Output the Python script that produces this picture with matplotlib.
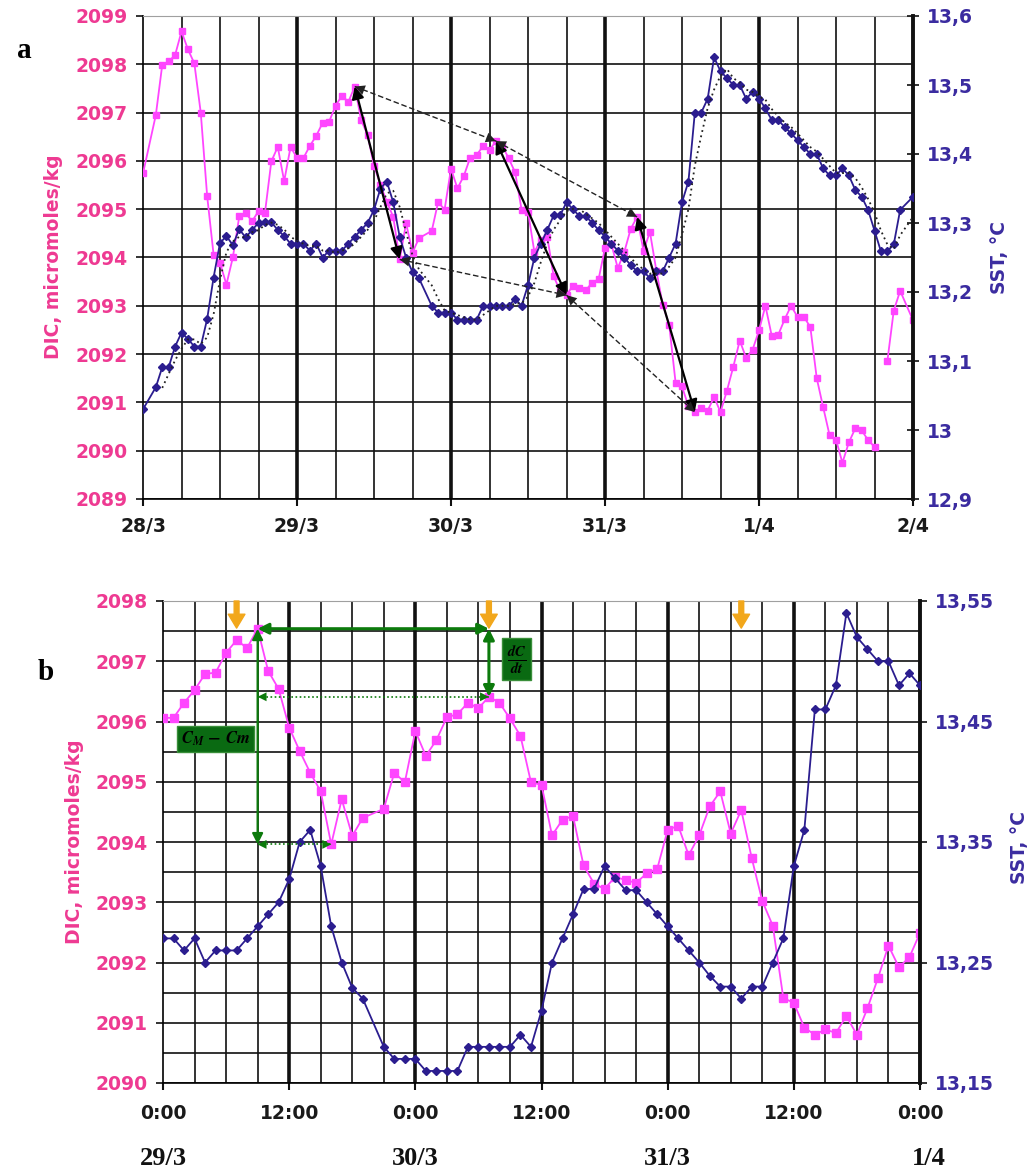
import numpy as np
import matplotlib.pyplot as plt
import matplotlib.transforms as mtransforms
from matplotlib.ticker import MultipleLocator, FixedLocator, FuncFormatter

plt.rcParams['font.family'] = 'DejaVu Sans'
plt.rcParams['font.weight'] = 'bold'
plt.rcParams['mathtext.fontset'] = 'stix'

# hourly samples, counted in hours from 28/3 00:00 (no rows logged at 1, 44 and 119)
missing_rows = [1, 44, 119]
hours = [h for h in range(121) if h not in missing_rows]

# DIC, micromoles/kg, one line per day (nan = empty cell)
dic = [
    2095.74, 2096.95, 2097.99, 2098.06, 2098.19, 2098.68, 2098.31, 2098.02, 2097.00, 2095.27, 2094.06, 2093.89,
    2093.44, 2094.00, 2094.85, 2094.92, 2094.75, 2094.96, 2094.92, 2095.99, 2096.29, 2095.58, 2096.29,
    2096.06, 2096.06, 2096.31, 2096.52, 2096.79, 2096.81, 2097.14, 2097.35, 2097.22, 2097.54, 2096.84, 2096.54,
    2095.90, 2095.51, 2095.15, 2094.84, 2093.96, 2094.71, 2094.10, 2094.40, 2094.55, 2095.15, 2094.99,
    2095.84, 2095.43, 2095.69, 2096.07, 2096.12, 2096.31, 2096.22, 2096.41, 2096.31, 2096.05, 2095.76, 2094.99,
    2094.95, 2094.11, 2094.37, 2094.43, 2093.61, 2093.31, 2093.22, 2093.42, 2093.37, 2093.32, 2093.48, 2093.55,
    2094.20, 2094.27, 2093.78, 2094.11, 2094.59, 2094.84, 2094.14, 2094.53, 2093.73, 2093.02, 2092.61, 2091.41,
    2091.33, 2090.92, 2090.80, 2090.89, 2090.83, 2091.11, 2090.80, 2091.24, 2091.74, 2092.28, 2091.92, 2092.09,
    2092.49, 2093.00, 2092.37, 2092.40, 2092.72, 2093.00, 2092.77, 2092.77, 2092.56, 2091.50, 2090.90, 2090.32,
    2090.23, 2089.75, 2090.17, 2090.46, 2090.42, 2090.22, 2090.08, np.nan, 2091.85, 2092.90, 2093.31, 2092.70,
]

# SST, deg C
sst = [
    13.030, 13.062, 13.091, 13.091, 13.121, 13.141, 13.132, 13.121, 13.121, 13.161, 13.221, 13.271,
    13.281, 13.268, 13.291, 13.279, 13.290, 13.300, 13.301, 13.301, 13.290, 13.281, 13.270,
    13.270, 13.270, 13.260, 13.270, 13.250, 13.260, 13.260, 13.260, 13.270, 13.280, 13.290, 13.300,
    13.319, 13.350, 13.360, 13.330, 13.280, 13.250, 13.229, 13.220, 13.180, 13.170, 13.170,
    13.170, 13.160, 13.160, 13.160, 13.160, 13.180, 13.180, 13.180, 13.180, 13.180, 13.190, 13.180,
    13.210, 13.250, 13.270, 13.290, 13.311, 13.311, 13.330, 13.320, 13.310, 13.310, 13.300, 13.290,
    13.280, 13.270, 13.260, 13.250, 13.239, 13.230, 13.230, 13.220, 13.230, 13.230, 13.250, 13.270,
    13.330, 13.360, 13.460, 13.460, 13.480, 13.540, 13.520, 13.510, 13.500, 13.500, 13.480, 13.490,
    13.480, 13.466, 13.449, 13.449, 13.439, 13.430, 13.420, 13.410, 13.400, 13.400, 13.379, 13.369,
    13.369, 13.379, 13.369, 13.348, 13.338, 13.319, 13.289, 13.259, 13.259, 13.269, 13.319, 13.338,
]

day_labels_a = ['28/3', '29/3', '30/3', '31/3', '1/4', '2/4']
time_labels_b = ['0:00', '12:00', '0:00', '12:00', '0:00', '12:00', '0:00']
day_labels_b = ['29/3', '30/3', '31/3', '1/4']

# DIC maxima / minima joined by arrows in panel a
peak_hours = [33, 55, 77]
trough_hours = [40, 66, 86]
# sunrise (7:00) markers in panel b
sunrise_hours = [31, 55, 79]

PINK = '#ff45ff'
PINK_TXT = '#ee3a92'
NAVY = '#2b1d8f'
NAVY_TXT = '#3b2ca0'
GREEN = '#0c7a0c'
BOX_GREEN = '#0a6a12'
ORANGE = '#f2a71b'
GRID = '#111111'
TICK_FS = 13.5


def dic_at(h):
    return dic[hours.index(h)]


def comma(v, pos=None):
    return f'{v:g}'.replace('.', ',')


def setup_axes(ax, twin, xlim, ylim, ylim2, major_x, minor_x, x_labels, sst_ticks, sst_dir):
    ax.set_xlim(*xlim)
    ax.set_ylim(*ylim)
    twin.set_ylim(*ylim2)
    ax.set_axisbelow(True)
    # vertical grid: heavy at every major step, light in between, none on the frame edges
    for h in np.arange(xlim[0] + minor_x, xlim[1], minor_x):
        heavy = (h - xlim[0]) % major_x == 0
        ax.axvline(h, color=GRID, lw=2.6 if heavy else 1.2, zorder=0.5)
    ax.xaxis.set_major_locator(FixedLocator(np.arange(xlim[0], xlim[1] + 1, major_x)))
    ax.set_xticklabels(x_labels)
    ax.yaxis.set_major_locator(MultipleLocator(1))
    ax.yaxis.set_major_formatter(FuncFormatter(lambda v, p: f'{v:.0f}'))
    ax.grid(which='both', axis='y', color=GRID, lw=1.2)
    ax.tick_params(axis='y', which='major', direction='out', length=5, width=1.2,
                   color=GRID, labelcolor=PINK_TXT, labelsize=TICK_FS, pad=6)
    ax.tick_params(axis='y', which='minor', length=0)
    ax.tick_params(axis='x', which='major', direction='out', length=5, width=1.5,
                   color=GRID, labelcolor='#1a1a1a', labelsize=TICK_FS, pad=8)
    twin.yaxis.set_major_locator(FixedLocator(sst_ticks))
    twin.yaxis.set_major_formatter(FuncFormatter(comma))
    twin.tick_params(axis='y', direction=sst_dir, length=8 if sst_dir == 'inout' else 5,
                     width=1.2, color=GRID, labelcolor=NAVY_TXT, labelsize=TICK_FS, pad=6)
    ax.spines['top'].set_color('#a0a0a0')
    ax.spines['right'].set_visible(False)
    for side in ('left', 'bottom'):
        ax.spines[side].set_linewidth(1.2)
    for side in ('left', 'top', 'bottom'):
        twin.spines[side].set_visible(False)
    twin.spines['right'].set_linewidth(2.8)
    twin.spines['right'].set_color(GRID)


def double_head(ax, p0, p1, trans, scale, color, dashed=False, lw=1.6):
    # dashed shafts are drawn as a plain line, the heads come from the arrow patch
    if dashed:
        ax.plot([p0[0], p1[0]], [p0[1], p1[1]], transform=trans, color=color,
                lw=1.0, ls=(0, (4, 2)), zorder=6)
    ax.annotate('', xy=p1, xytext=p0, xycoords=trans, textcoords=trans,
                arrowprops=dict(arrowstyle='<|-|>', color=color, lw=0 if dashed else lw,
                                mutation_scale=scale, shrinkA=0, shrinkB=0), zorder=7)


fig = plt.figure(figsize=(10.34, 11.7), dpi=100)
W, H = 1034, 1170
ax_a = fig.add_axes([143 / W, 1 - 499 / H, 770 / W, 483 / H])
ax_b = fig.add_axes([163 / W, 1 - 1083 / H, 757 / W, 482 / H])
sst_a = ax_a.twinx()
sst_b = ax_b.twinx()

hrs = np.array(hours, dtype=float)
dic_arr = np.array(dic)
sst_arr = np.array(sst)

# ---- panel a: whole record 28/3 - 2/4
setup_axes(ax_a, sst_a, (0, 120), (2089, 2099), (12.9, 13.6), 24, 6, day_labels_a,
           np.round(np.arange(12.9, 13.61, 0.1), 1), 'inout')

ax_a.plot(hrs, dic_arr, color=PINK, lw=1.3, marker='s', ms=5, mec=PINK, zorder=3)
sst_a.plot(hrs, sst_arr, color=NAVY, lw=1.3, marker='D', ms=4, zorder=3)
# 3-point moving average of SST
ma = np.convolve(sst_arr, np.ones(3) / 3, mode='valid')
sst_a.plot(hrs[2:], ma, color='#222222', lw=1.3, ls=(0, (1, 2)), zorder=4)

ta = ax_a.transData
for pk, tr in zip(peak_hours, trough_hours):
    double_head(sst_a, (pk, dic_at(pk)), (tr, dic_at(tr)), ta, 18, 'black', lw=1.6)
for hs in (peak_hours, trough_hours):
    for h0, h1 in zip(hs[:-1], hs[1:]):
        double_head(sst_a, (h0, dic_at(h0)), (h1, dic_at(h1)), ta, 18, '#222222', dashed=True)

# ---- panel b: 29/3 - 1/4 close-up
setup_axes(ax_b, sst_b, (24, 96), (2090, 2098), (13.15, 13.55), 12, 3, time_labels_b,
           np.round(np.arange(13.15, 13.56, 0.1), 2), 'out')
ax_b.yaxis.set_minor_locator(MultipleLocator(0.5))
ax_b.tick_params(axis='x', which='major', pad=10)

ax_b.plot(hrs, dic_arr, color=PINK, lw=1.3, marker='s', ms=6, mec=PINK, zorder=3)
sst_b.plot(hrs, sst_arr, color=NAVY, lw=1.3, marker='D', ms=4.5, zorder=3)

tb = ax_b.transData
for h in sunrise_hours:
    sst_b.annotate('', xy=(h, 2097.55), xytext=(h, 2098.0), xycoords=tb, textcoords=tb,
                   arrowprops=dict(facecolor=ORANGE, edgecolor=ORANGE, width=3.5,
                                   headwidth=12, headlength=10, shrink=0), zorder=8,
                   annotation_clip=False)

pk, tr, nxt = peak_hours[0], trough_hours[0], sunrise_hours[1]
c_max, c_min, c_next = dic_at(pk), dic_at(tr), dic_at(nxt)
double_head(sst_b, (pk, c_max), (nxt, c_max), tb, 16, GREEN, lw=2.2)
double_head(sst_b, (pk, c_max), (pk, c_min), tb, 16, GREEN, lw=1.6)
double_head(sst_b, (nxt, c_max), (nxt, c_next), tb, 16, GREEN, lw=2.2)
for y_lvl, h_end in ((c_next, nxt), (c_min, tr)):
    sst_b.plot([pk, h_end], [y_lvl, y_lvl], transform=tb, color=GREEN, lw=1.2,
               ls=(0, (1, 1.5)), zorder=6)
    sst_b.annotate('', xy=(h_end, y_lvl), xytext=(pk, y_lvl), xycoords=tb, textcoords=tb,
                   arrowprops=dict(arrowstyle='<|-|>', color=GREEN, lw=0, mutation_scale=16,
                                   shrinkA=0, shrinkB=0), zorder=7)

box = dict(boxstyle='square,pad=0.22', facecolor=BOX_GREEN, edgecolor='#3a8f3a', lw=1)
sst_b.text(29.0, 2095.71, r'$C_M\,-\,Cm$', transform=tb, ha='center', va='center',
           fontsize=12, color='black', bbox=box, zorder=9)
sst_b.text(57.65, 2097.03, r'$\frac{dC}{dt}$', transform=tb, ha='center', va='center',
           fontsize=15, color='black', bbox=box, zorder=9)

# date captions under the time axis
blend = mtransforms.blended_transform_factory(ax_b.transData, ax_b.transAxes)
for h, lbl in zip([24, 48, 72, 96.8], day_labels_b):
    ax_b.text(h, -0.157, lbl, transform=blend, ha='center', va='center',
              family='Liberation Serif', fontweight='bold', fontsize=19, color='#111111')

# axis titles and panel letters
fig.text(54 / W, 1 - 257 / H, 'DIC, micromoles/kg', rotation=90, ha='center', va='center',
         color=PINK_TXT, fontsize=13.5)
fig.text(999 / W, 1 - 258 / H, 'SST, °C', rotation=90, ha='center', va='center',
         color=NAVY_TXT, fontsize=13.5)
fig.text(75 / W, 1 - 842 / H, 'DIC, micromoles/kg', rotation=90, ha='center', va='center',
         color=PINK_TXT, fontsize=13.5)
fig.text(1020 / W, 1 - 848 / H, 'SST, °C', rotation=90, ha='center', va='center',
         color=NAVY_TXT, fontsize=13.5)
fig.text(24 / W, 1 - 51 / H, 'a', ha='center', va='center', family='Liberation Serif',
         fontweight='bold', fontsize=21)
fig.text(46 / W, 1 - 672 / H, 'b', ha='center', va='center', family='Liberation Serif',
         fontweight='bold', fontsize=21)

fig.savefig('out.png', dpi=100)
